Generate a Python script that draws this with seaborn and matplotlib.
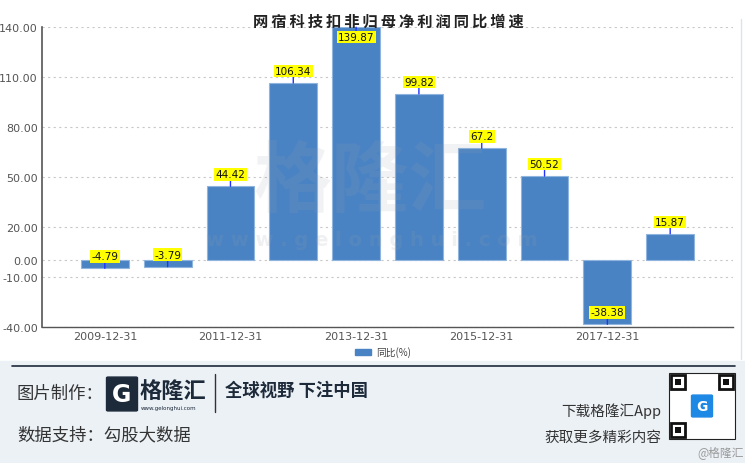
import matplotlib
matplotlib.use("Agg")
import matplotlib.pyplot as plt
from matplotlib.patches import Rectangle, FancyBboxPatch
import seaborn as sns
import pandas as pd

dates = ["2009-12-31", "2010-12-31", "2011-12-31", "2012-12-31", "2013-12-31",
         "2014-12-31", "2015-12-31", "2016-12-31", "2017-12-31", "2018-12-31"]
values = [-4.79, -3.79, 44.42, 106.34, 139.87, 99.82, 67.2, 50.52, -38.38, 15.87]
labels = ["-4.79", "-3.79", "44.42", "106.34", "139.87", "99.82", "67.2", "50.52", "-38.38", "15.87"]
yticks = [-40, -10, 0, 20, 50, 80, 110, 140]
title = "网宿科技扣非归母净利润同比增速"
series_name = "同比(%)"

sns.set_theme(style="white")
CJK = ["Noto Sans CJK SC", "DejaVu Sans"]
plt.rcParams["font.family"] = CJK

W, H = 745, 464
fig = plt.figure(figsize=(W / 100, H / 100), dpi=100)
ax = fig.add_axes([42 / W, 1 - 328 / H, (733 - 42) / W, 300 / H])

df = pd.DataFrame({"date": dates, "value": values})
bar_color = "#4a83c4"
sns.barplot(data=df, x="date", y="value", ax=ax, color=bar_color, width=0.76,
            saturation=1, edgecolor="#8fb4de", linewidth=0.8, zorder=3)

ax.set_xlim(-1, len(dates))
ax.set_ylim(-40, 140)
ax.set_yticks(yticks)
ax.set_yticklabels([f"{t:.2f}" for t in yticks], fontsize=8, color="#555555",
                   family="DejaVu Sans")
ax.set_xticks(range(0, len(dates), 2))
ax.set_xticklabels([dates[i] for i in range(0, len(dates), 2)], fontsize=8,
                   color="#555555", family="DejaVu Sans")
ax.set_xlabel("")
ax.set_ylabel("")
ax.tick_params(axis="both", length=0, pad=3)
for y in yticks:
    ax.axhline(y, color="#c8c8c8", lw=0.8, ls=(0, (2, 3)), zorder=1)
for s in ["top", "right"]:
    ax.spines[s].set_visible(False)
ax.spines["left"].set_color("#555555")
ax.spines["left"].set_linewidth(1.2)
ax.spines["bottom"].set_color("#555555")
ax.spines["bottom"].set_linewidth(1.0)

# data labels
for i, (v, lab) in enumerate(zip(values, labels)):
    off = 12 if v < 130 else -10
    ax.annotate(lab, xy=(i, v), xytext=(0, off), textcoords="offset pixels",
                ha="center", va="center", fontsize=7.5, color="#111111",
                family="DejaVu Sans", zorder=6,
                bbox=dict(boxstyle="square,pad=0.12", fc="#ffff00", ec="none"),
                arrowprops=dict(arrowstyle="-", color="#2233ff", lw=1.0,
                                shrinkA=0, shrinkB=0))

# watermark
fig.text(370 / W, 1 - 183 / H, "格隆汇", fontsize=56, color="#9aa0a8", alpha=0.13,
         ha="center", va="center", fontweight="bold", zorder=10)
fig.text(372 / W, 1 - 240 / H, "w w w . g e l o n g h u i . c o m", fontsize=14,
         color="#9aa0a8", alpha=0.15, ha="center", va="center", fontweight="bold",
         family="DejaVu Sans", zorder=10)

# title
fig.text(388 / W, 1 - 22 / H, "\u2009".join(title), fontsize=11, fontweight="bold",
         color="#222222", ha="center", va="center")

# right light border
fig.add_artist(plt.Line2D([741 / W, 741 / W], [1 - 20 / H, 1 - 360 / H],
                          color="#dde3ea", lw=1))

# legend
fig.add_artist(Rectangle((355 / W, 1 - 356 / H), 16 / W, 6 / H, color=bar_color,
                         transform=fig.transFigure))
fig.text(376 / W, 1 - 353 / H, series_name, fontsize=7, color="#444444",
         ha="left", va="center")

# footer
fig.add_artist(Rectangle((0, 0), 1, (H - 362) / H, color="#ecf1f6",
                         transform=fig.transFigure, zorder=0))
fig.add_artist(plt.Line2D([12 / W, 735 / W], [1 - 367 / H, 1 - 367 / H],
                          color="#1d2a3a", lw=1.2))
fig.text(17 / W, 1 - 394 / H, "图片制作：", fontsize=12.5, color="#333333",
         ha="left", va="center")
fig.add_artist(FancyBboxPatch((108 / W, 1 - 411 / H), 28 / W, 32 / H,
                              boxstyle="round,pad=0.002", color="#1d2a3a",
                              transform=fig.transFigure))
fig.text(122 / W, 1 - 395 / H, "G", fontsize=17, fontweight="bold", color="white",
         ha="center", va="center", family="DejaVu Sans")
fig.text(140 / W, 1 - 391 / H, "格隆汇", fontsize=16, fontweight="bold",
         color="#1d2a3a", ha="left", va="center")
fig.text(141 / W, 1 - 409 / H, "www.gelonghui.com", fontsize=4, color="#1d2a3a",
         ha="left", va="center", family="DejaVu Sans")
fig.add_artist(plt.Line2D([215 / W, 215 / W], [1 - 375 / H, 1 - 413 / H],
                          color="#333333", lw=1))
fig.text(225 / W, 1 - 391 / H, "全球视野 下注中国", fontsize=12.5, fontweight="bold",
         color="#1d2a3a", ha="left", va="center")
fig.text(17 / W, 1 - 435 / H, "数据支持：勾股大数据", fontsize=12.5, color="#333333",
         ha="left", va="center")
fig.text(661 / W, 1 - 411 / H, "下载格隆汇App", fontsize=10.5, color="#333333",
         ha="right", va="center")
fig.text(661 / W, 1 - 438 / H, "获取更多精彩内容", fontsize=10.5, color="#333333",
         ha="right", va="center")

# QR-like icon
qx, qy, qs = 669, 374, 66
fig.add_artist(Rectangle((qx / W, 1 - (qy + qs) / H), qs / W, qs / H, fc="white",
                         ec="#222222", lw=0.8, transform=fig.transFigure))
for fx, fy in [(qx + 2, qy + 2), (qx + qs - 16, qy + 2), (qx + 2, qy + qs - 16)]:
    fig.add_artist(Rectangle((fx / W, 1 - (fy + 14) / H), 14 / W, 14 / H, fc="white",
                             ec="#111111", lw=2, transform=fig.transFigure))
    fig.add_artist(Rectangle(((fx + 4) / W, 1 - (fy + 10) / H), 6 / W, 6 / H,
                             fc="#111111", ec="none", transform=fig.transFigure))
fig.add_artist(FancyBboxPatch(((qx + 24) / W, 1 - (qy + 43) / H), 18 / W, 20 / H,
                              boxstyle="round,pad=0.002", color="#1e88e5",
                              transform=fig.transFigure))
fig.text((qx + 33) / W, 1 - (qy + 33) / H, "G", fontsize=10, fontweight="bold",
         color="white", ha="center", va="center", family="DejaVu Sans")
fig.text(744 / W, 1 - 453 / H, "@格隆汇", fontsize=8.5, color="#999999",
         ha="right", va="center")

fig.savefig("out.png", dpi=100)
